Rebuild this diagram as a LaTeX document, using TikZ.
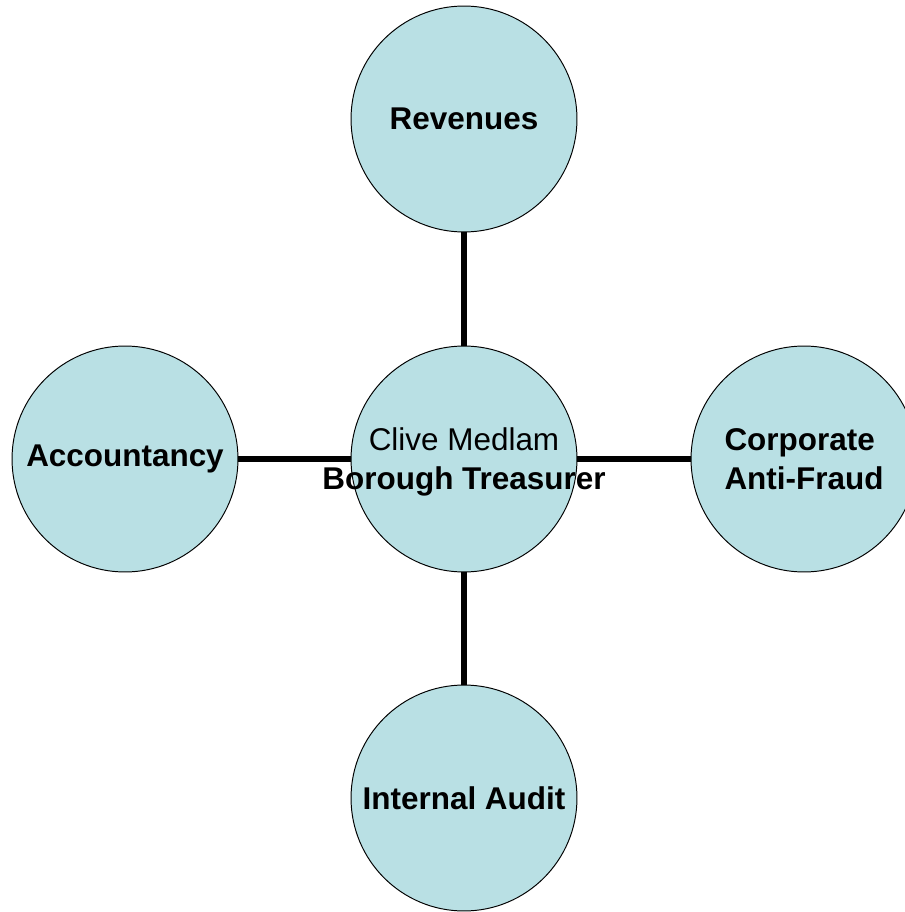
\documentclass[tikz,border=0pt]{standalone}
\usepackage{fontspec}
\setmainfont{Liberation Sans}
\usepackage{xcolor}
\definecolor{unitblue}{RGB}{185,224,228}
\tikzset{
  unit/.style={circle, draw=black, line width=0.55pt, fill=unitblue,
    minimum size=4.52cm, inner sep=0pt, font=\fontsize{17.9}{22.2}\selectfont\bfseries},
  link/.style={line width=3pt}
}

\begin{document}
\begin{tikzpicture}[x=0.02cm,y=-0.02cm]
  \useasboundingbox (0,0) rectangle (905,912);

  % Head of service
  \node[unit] (treas) at (464,459) {};
  \node[align=center, font=\fontsize{17.9}{22.2}\selectfont] (head) at (464,462)
    {Clive Medlam\\ \textbf{Borough Treasurer}};

  % Sections
  \node[unit] (rev) at (464,119) {Revenues};
  \node[unit] (acc) at (125,459) {Accountancy};
  \node[unit, align=left] (fraud) at (804,459) {Corporate\\Anti-Fraud};
  \node[unit] (audit) at (464,798) {Internal Audit};

  % Links
  \draw[link] (treas) -- (rev);
  \draw[link] (treas) -- (acc);
  \draw[link] (treas) -- (fraud);
  \draw[link] (treas) -- (audit);
\end{tikzpicture}
\end{document}
